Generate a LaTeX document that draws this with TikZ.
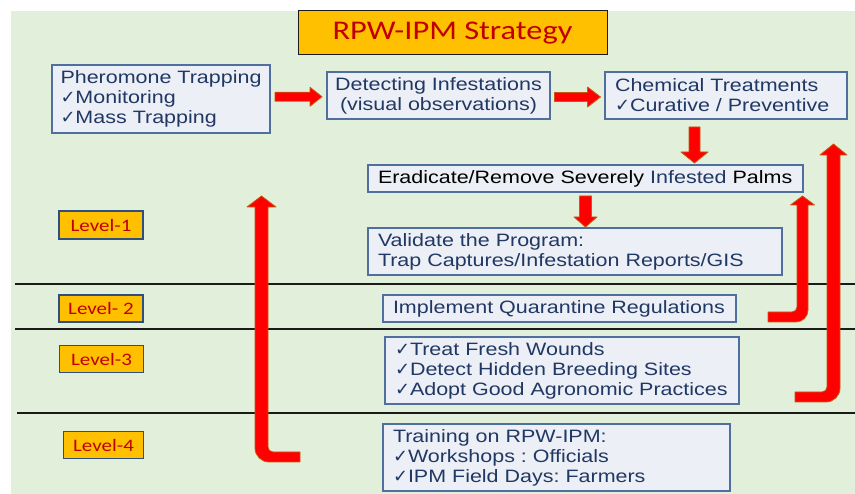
\documentclass[tikz,border=0pt]{standalone}
\usepackage{fontspec}
\usetikzlibrary{calc}
\newfontfamily\boxfont[FakeStretch=1.2]{Liberation Sans}
\newfontfamily\levelfont[FakeStretch=1.2]{Carlito}
\newfontfamily\tickfont{DejaVu Sans}
\newcommand{\tick}{{\tickfont ✓}}
\definecolor{bggreen}{HTML}{E2EFDA}
\definecolor{boxfill}{HTML}{EDEFF6}
\definecolor{boxedge}{HTML}{4F6F9F}
\definecolor{stepnavy}{HTML}{203864}
\definecolor{levelfill}{HTML}{FFC000}
\definecolor{leveledge}{HTML}{2F4F7F}
\definecolor{levelred}{HTML}{C00000}
\definecolor{arrowred}{HTML}{FF0000}
\definecolor{arrowedge}{HTML}{C55A11}
\definecolor{lineblack}{HTML}{1A1A1A}
\frenchspacing
\begin{document}
\begin{tikzpicture}[x=1pt,y=-1pt,
	stepbox/.style={draw=boxedge,fill=boxfill,line width=1.1pt,inner xsep=10pt,inner ysep=0pt,
		text=stepnavy,font=\boxfont\fontsize{17.9}{20}\selectfont,align=left},
	levelbox/.style={draw=leveledge,fill=levelfill,line width=1.1pt,inner sep=0pt,
		minimum height=27pt,text=levelred,font=\levelfont\fontsize{17.5}{20}\selectfont},
	bigarrow/.style={draw=arrowedge,fill=arrowred,line width=0.8pt,line join=round},
	sepline/.style={draw=lineblack,line width=1.5pt}]
	\useasboundingbox (0,0) rectangle (855,494);
	\fill[bggreen] (11,11) rectangle (855,494);
	% level separators
	\draw[sepline] (15,284) -- (855,284);
	\draw[sepline] (15,329) -- (855,329);
	\draw[sepline] (17,413) -- (855,413);
	% title
	\node[draw=lineblack,fill=levelfill,line width=1pt,minimum width=309pt,minimum height=44pt,
		text=levelred,font=\levelfont\fontsize{27}{30}\selectfont] (title) at (452.5,33) {RPW-IPM Strategy};
	% level 1
	\node[stepbox,inner xsep=8pt,minimum width=218pt,minimum height=68pt] (phero) at (161,99)
		{Pheromone Trapping\\\tick Monitoring\\\tick Mass Trapping};
	\node[stepbox,inner xsep=7pt,minimum width=223pt,minimum height=47pt,align=center] (detect) at (438.5,95.5)
		{Detecting Infestations\\(visual observations)};
	\node[stepbox,text width=222pt,minimum height=47pt] (chem) at (726,95.5)
		{Chemical Treatments\\\tick Curative / Preventive};
	\node[stepbox,text width=415pt,minimum height=27pt] (erad) at (585.5,178.5)
		{\color{black}Eradicate/Remove Severely \textcolor{stepnavy}{Infested} Palms};
	\node[stepbox,text width=394pt,minimum height=47pt] (valid) at (575,251.5)
		{Validate the Program:\\Trap Captures/Infestation Reports/GIS};
	% level 2 to 4
	\node[stepbox,text width=333pt,minimum height=27pt] (quar) at (559.5,308.5)
		{Implement Quarantine Regulations};
	\node[stepbox,text width=334pt,minimum height=67pt] (hygiene) at (562,370.5)
		{\tick Treat Fresh Wounds\\\tick Detect Hidden Breeding Sites\\\tick Adopt Good Agronomic Practices};
	\node[stepbox,text width=327pt,minimum height=67pt] (train) at (556.5,457.5)
		{Training on RPW-IPM:\\\tick Workshops : Officials\\\tick IPM Field Days: Farmers};
	\node[levelbox,minimum width=84pt,minimum height=28pt] (lev1) at (101,225) {Level-1};
	\node[levelbox,minimum width=84pt] (lev2) at (101,308.5) {Level- 2};
	\node[levelbox,minimum width=84pt] (lev3) at (101.5,359) {Level-3};
	\node[levelbox,minimum width=80pt] (lev4) at (103.5,445) {Level-4};
	% straight arrows
	\coordinate (ar1) at ($(phero.east)!0.5!(detect.west)+(0,-0.5)$);
	\coordinate (ar2) at ($(detect.east)!0.5!(chem.west)+(0,1.5)$);
	\coordinate (ar3) at (694.5,145);
	\coordinate (ar4) at (585.5,211.5);
	\filldraw[bigarrow,shift={(ar1)}] (-23.5,-4.5) -- (11.5,-4.5) -- (11.5,-9.5) -- (23.5,0)
		-- (11.5,9.5) -- (11.5,4.5) -- (-23.5,4.5) -- cycle;
	\filldraw[bigarrow,shift={(ar2)}] (-23,-4.5) -- (10,-4.5) -- (10,-10) -- (23,0)
		-- (10,10) -- (10,4.5) -- (-23,4.5) -- cycle;
	\filldraw[bigarrow,shift={(ar3)}] (-5.5,-18) -- (-5.5,7) -- (-13.5,7) -- (0,18)
		-- (13.5,7) -- (5.5,7) -- (5.5,-18) -- cycle;
	\filldraw[bigarrow,shift={(ar4)}] (-6,-15.5) -- (-6,5.5) -- (-11.5,5.5) -- (0,15.5)
		-- (11.5,5.5) -- (6,5.5) -- (6,-15.5) -- cycle;
	% bent arrows
	\filldraw[bigarrow] (300,452) -- (273,452) arc[start angle=90,end angle=180,radius=5]
		-- (268,207) -- (276,207) -- (261.5,196) -- (247,207) -- (255,207)
		-- (255,448) arc[start angle=180,end angle=90,radius=14] -- (300,462) -- cycle;
	\filldraw[bigarrow] (768,312) -- (792,312) arc[start angle=90,end angle=0,radius=5]
		-- (797,205) -- (790.5,205) -- (802.5,196) -- (814.5,205) -- (808,205)
		-- (808,310) arc[start angle=0,end angle=90,radius=12] -- (768,322) -- cycle;
	\filldraw[bigarrow] (795,392) -- (822,392) arc[start angle=90,end angle=0,radius=5]
		-- (827,155) -- (820,155) -- (833.5,144) -- (847,155) -- (840,155)
		-- (840,388) arc[start angle=0,end angle=90,radius=14] -- (795,402) -- cycle;
\end{tikzpicture}
\end{document}
